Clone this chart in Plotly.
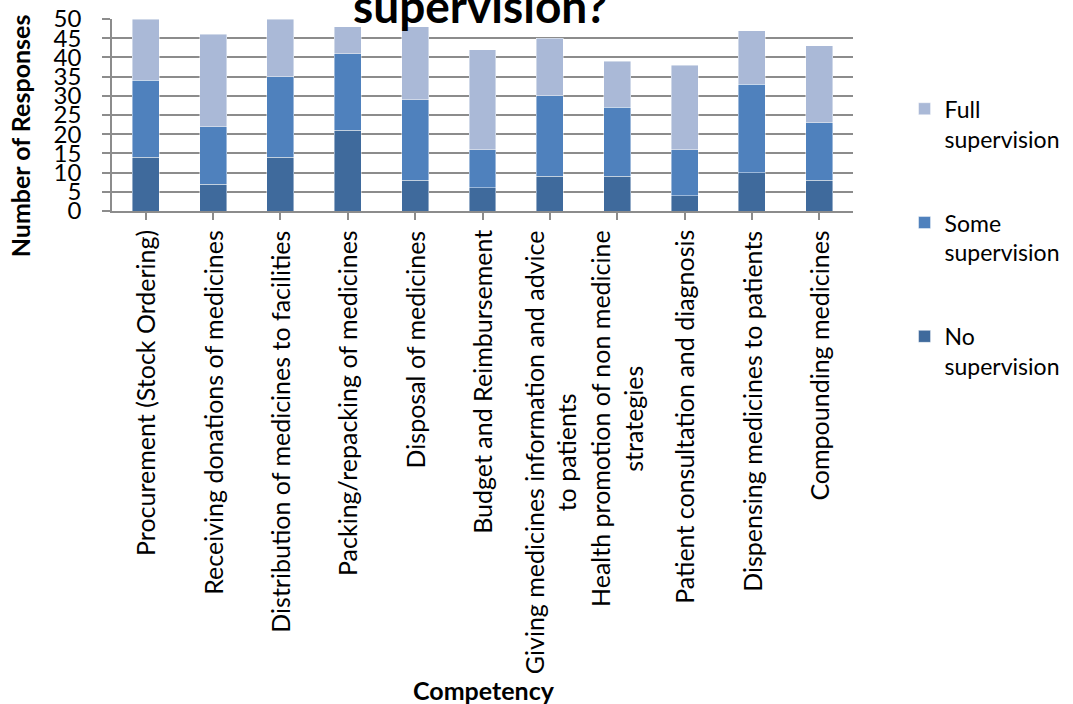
import plotly.graph_objects as go

competencies = [
    "Procurement (Stock Ordering)",
    "Receiving donations of medicines",
    "Distribution of medicines to facilities",
    "Packing/repacking of medicines",
    "Disposal of medicines",
    "Budget and Reimbursement",
    "Giving medicines information and advice<br>to patients",
    "Health promotion of non medicine<br>strategies",
    "Patient consultation and diagnosis",
    "Dispensing medicines to patients",
    "Compounding medicines",
]
no_supervision = [14, 7, 14, 21, 8, 6, 9, 9, 4, 10, 8]
some_supervision = [20, 15, 21, 20, 21, 10, 21, 18, 12, 23, 15]
full_supervision = [16, 24, 15, 7, 19, 26, 15, 12, 22, 14, 20]
y_ticks = [0, 5, 10, 15, 20, 25, 30, 35, 40, 45, 50]

FONT = "Lato"
SIZE = 25
x_idx = list(range(len(competencies)))

# stacked bottom-to-top; legend lists them top-to-bottom
series = [
    ("No<br>supervision", no_supervision, "#3F6A9C", 3),
    ("Some<br>supervision", some_supervision, "#4F81BD", 2),
    ("Full<br>supervision", full_supervision, "#AAB9D7", 1),
]

fig = go.Figure()
for i, (name, vals, col, rank) in enumerate(series):
    fig.add_trace(go.Bar(
        x=x_idx, y=vals, name=name, legendgroup=f"g{i}", legendrank=rank,
        marker=dict(color=col, line=dict(color="rgba(255,255,255,0.55)", width=0.8)),
    ))

annotations = []
for i, label in enumerate(competencies):
    annotations.append(dict(
        x=i, y=-0.09, xref="x", yref="paper", text=label, showarrow=False,
        textangle=-90, xanchor="center", yanchor="top", align="center",
        font=dict(family=FONT, size=SIZE, color="#000000"),
    ))
annotations += [
    dict(x=0.497, y=1.07, xref="paper", yref="paper", text="<b>supervision?</b>",
         showarrow=False, xanchor="center", yanchor="middle",
         font=dict(family=FONT, size=46, color="#000000")),
    dict(x=-0.124, y=0.39, xref="paper", yref="paper", text="<b>Number of Responses</b>",
         showarrow=False, textangle=-90, xanchor="center", yanchor="middle",
         font=dict(family=FONT, size=SIZE, color="#000000")),
    dict(x=0.502, y=-2.495, xref="paper", yref="paper", text="<b>Competency</b>",
         showarrow=False, xanchor="center", yanchor="middle",
         font=dict(family=FONT, size=SIZE, color="#000000")),
]

fig.update_layout(
    width=1073, height=704,
    margin=dict(l=112, r=220, t=19, b=493, autoexpand=False),
    barmode="stack", bargap=0.6,
    paper_bgcolor="white", plot_bgcolor="white",
    font=dict(family=FONT, size=SIZE, color="#000000"),
    showlegend=True,
    legend=dict(x=0.843, y=0.876, xref="container", yref="container",
                xanchor="left", yanchor="top",
                traceorder="grouped", tracegroupgap=51, valign="top",
                font=dict(family=FONT, size=23, color="#000000")),
    annotations=annotations,
    xaxis=dict(
        range=[-0.5, len(competencies) - 0.5], tickmode="array", tickvals=x_idx,
        showticklabels=False, ticks="outside", tickson="boundaries", ticklen=7,
        tickcolor="#8C8C8C", tickwidth=1.5, showline=True, linecolor="#8C8C8C",
        linewidth=1.5, showgrid=False, zeroline=False,
    ),
    yaxis=dict(
        range=[0, 50], tickmode="array", tickvals=y_ticks, ticks="outside",
        ticklen=8, tickcolor="#8C8C8C", tickwidth=1.5, showline=True,
        linecolor="#8C8C8C", linewidth=1.5, showgrid=True, gridcolor="#8C8C8C",
        gridwidth=1.5, zeroline=False, ticklabelstandoff=16,
        tickfont=dict(family=FONT, size=24, color="#000000"),
    ),
)

fig.write_html("out.html")
